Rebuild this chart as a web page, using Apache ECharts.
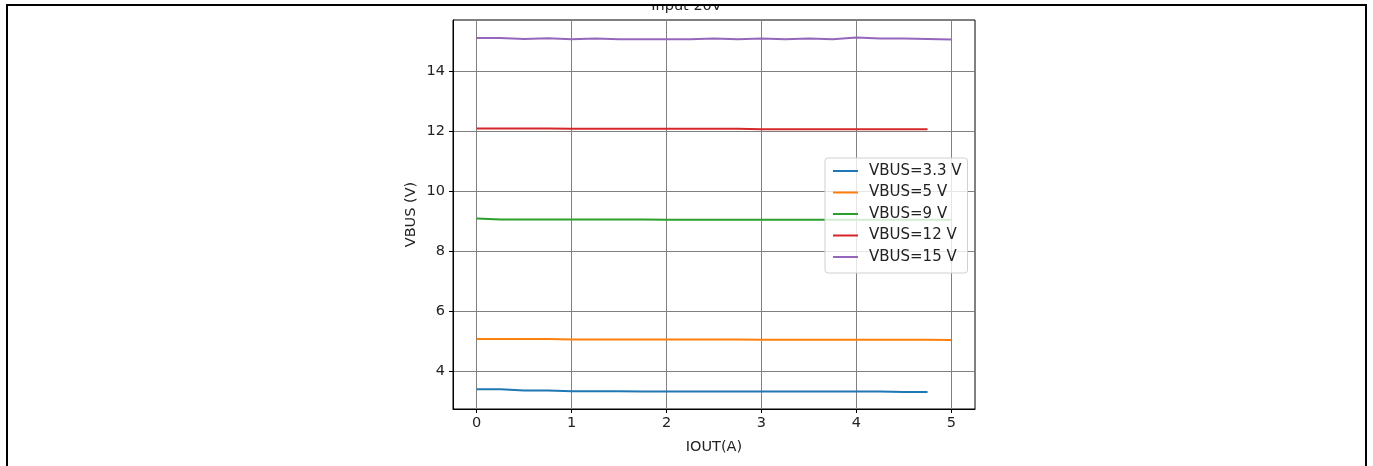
<!DOCTYPE html>
<html>
<head>
<meta charset="utf-8">
<script src="https://cdn.jsdelivr.net/npm/echarts@6/dist/echarts.min.js"></script>
<style>
  html, body { margin: 0; padding: 0; background: #fff; }
  #chart { width: 1373px; height: 466px; }
</style>
</head>
<body>
<div id="chart"></div>
<script>
// Output current sweep, 0.25 A steps
const iout = [0, 0.25, 0.5, 0.75, 1, 1.25, 1.5, 1.75, 2, 2.25, 2.5, 2.75, 3, 3.25, 3.5, 3.75, 4, 4.25, 4.5, 4.75, 5];

// Measured VBUS for each setpoint (V)
const vbus33 = [3.39, 3.39, 3.35, 3.35, 3.32, 3.32, 3.32, 3.31, 3.31, 3.31, 3.31, 3.31, 3.31, 3.31, 3.31, 3.31, 3.31, 3.31, 3.30, 3.30];
const vbus5 = [5.06, 5.06, 5.06, 5.06, 5.05, 5.05, 5.05, 5.05, 5.05, 5.05, 5.05, 5.05, 5.04, 5.04, 5.04, 5.04, 5.04, 5.04, 5.04, 5.04, 5.03];
const vbus9 = [9.08, 9.05, 9.05, 9.05, 9.05, 9.05, 9.05, 9.05, 9.04, 9.04, 9.04, 9.04, 9.04, 9.04, 9.04, 9.04, 9.04, 9.04, 9.04, 9.04, 9.04];
const vbus12 = [12.08, 12.08, 12.08, 12.08, 12.07, 12.07, 12.07, 12.07, 12.07, 12.07, 12.07, 12.07, 12.06, 12.06, 12.06, 12.06, 12.06, 12.06, 12.06, 12.06];
const vbus15 = [15.10, 15.10, 15.07, 15.09, 15.06, 15.08, 15.06, 15.06, 15.06, 15.06, 15.08, 15.06, 15.08, 15.06, 15.08, 15.06, 15.12, 15.08, 15.08, 15.07, 15.05];

const seriesNames = ['VBUS=3.3 V', 'VBUS=5 V', 'VBUS=9 V', 'VBUS=12 V', 'VBUS=15 V'];
const seriesValues = [vbus33, vbus5, vbus9, vbus12, vbus15];
const colors = ['#1f77b4', '#ff7f0e', '#2ca02c', '#d62728', '#9467bd'];

const xTicks = [0, 1, 2, 3, 4, 5];
const yTicks = [4, 6, 8, 10, 12, 14];
const titleText = 'Input 20V';

const font = 'DejaVu Sans';
const textColor = '#222';
const chart = echarts.init(document.getElementById('chart'), null, { renderer: 'canvas' });

const series = seriesNames.map((name, i) => ({
  name: name,
  type: 'line',
  data: seriesValues[i].map((v, k) => [iout[k], v]),
  showSymbol: false,
  symbol: 'none',
  lineStyle: { color: colors[i], width: 2 },
  itemStyle: { color: colors[i] },
  z: 3
}));

chart.setOption({
  animation: false,
  backgroundColor: '#fff',
  color: colors,
  grid: {
    left: 453, right: 398, top: 20, bottom: 57,
    show: true, borderColor: '#000', borderWidth: 1, backgroundColor: 'transparent'
  },
  xAxis: {
    type: 'value',
    min: -0.25, max: 5.25,
    name: 'IOUT(A)',
    nameLocation: 'middle',
    nameGap: 31,
    nameTextStyle: { fontFamily: font, fontSize: 14.5, color: textColor },
    axisLine: { show: true, onZero: false, lineStyle: { color: '#000', width: 1 } },
    axisTick: { show: true, customValues: xTicks, length: 4, lineStyle: { color: '#000' } },
    axisLabel: { customValues: xTicks, fontFamily: font, fontSize: 14.5, color: textColor, margin: 7 },
    splitLine: { show: true, lineStyle: { color: '#808080', width: 1 } }
  },
  yAxis: {
    type: 'value',
    min: 2.73, max: 15.7,
    name: 'VBUS (V)',
    nameLocation: 'middle',
    nameRotate: 90,
    nameGap: 34,
    nameTextStyle: { fontFamily: font, fontSize: 14.5, color: textColor },
    axisLine: { show: true, onZero: false, lineStyle: { color: '#000', width: 1 } },
    axisTick: { show: true, customValues: yTicks, length: 4, lineStyle: { color: '#000' } },
    axisLabel: { customValues: yTicks, fontFamily: font, fontSize: 14.5, color: textColor, margin: 8 },
    splitLine: { show: true, lineStyle: { color: '#808080', width: 1 } }
  },
  legend: {
    orient: 'vertical',
    left: 825, top: 158,
    backgroundColor: 'rgba(255,255,255,0.8)',
    borderColor: '#d0d0d0', borderWidth: 1, borderRadius: 3,
    padding: [5, 6, 8, 8],
    itemWidth: 25, itemHeight: 2, itemGap: 5.5,
    icon: 'rect',
    textStyle: { fontFamily: font, fontSize: 15, lineHeight: 16, color: textColor, padding: [0, 0, 0, 6] },
    data: seriesNames
  },
  graphic: [
    {
      type: 'text',
      left: 'center',
      top: -1,
      style: { text: titleText, font: '14.5px "DejaVu Sans"', fill: textColor },
      z: 1
    },
    {
      // page margin above the frame
      type: 'rect',
      shape: { x: 0, y: 0, width: 1373, height: 5 },
      style: { fill: '#fff' },
      z: 5
    },
    {
      type: 'rect',
      shape: { x: 7, y: 5, width: 1359, height: 470 },
      style: { fill: 'none', stroke: '#000', lineWidth: 2 },
      z: 10
    }
  ],
  series: series
});
</script>
</body>
</html>
